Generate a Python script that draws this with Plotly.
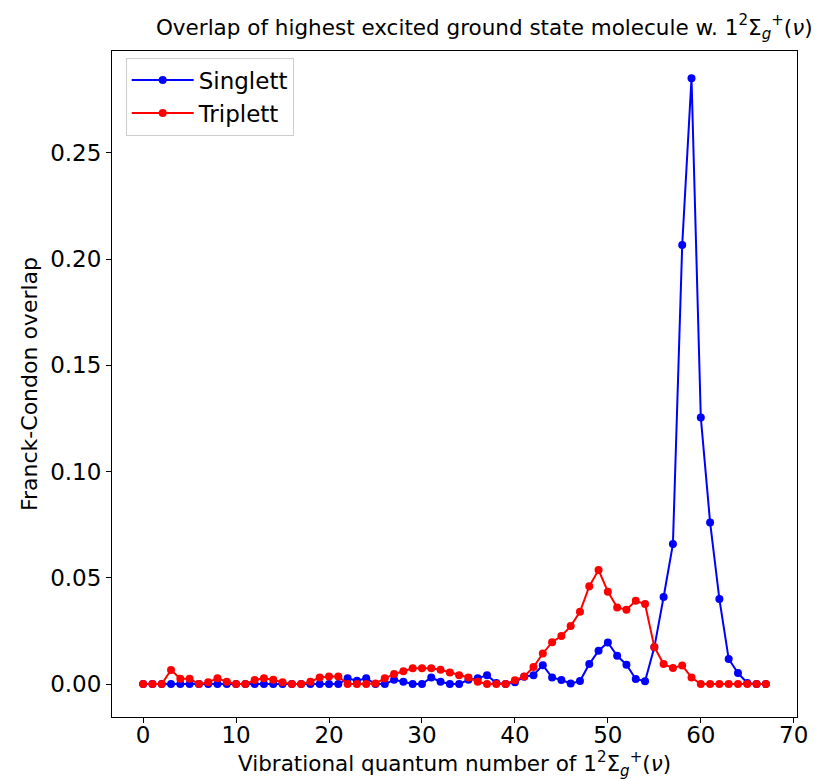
import plotly.graph_objects as go

v = list(range(0, 68))

singlett = [0, 0, 0, 0, 0, 0, 0, 0, 0, 0,
            0, 0, 0, 0, 0, 0, 0, 0, 0, 0,
            0, 0, 0.0027, 0.0016, 0.0027, 0, 0, 0.002, 0.0011, 0,
            0, 0.0031, 0.0011, 0, 0, 0.002, 0.0027, 0.0042, 0.0005, 0,
            0.0008, 0.0035, 0.0042, 0.0089, 0.0031, 0.0019, 0.0003, 0.0014, 0.0094, 0.0157,
            0.0196, 0.0133, 0.0091, 0.0024, 0.0013, 0.0173, 0.0410, 0.0659, 0.2067, 0.2852,
            0.1255, 0.0761, 0.0400, 0.0118, 0.0052, 0.0005, 0, 0]

triplett = [0, 0, 0, 0.0066, 0.0025, 0.0025, 0, 0.0008, 0.0027, 0.0011,
            0, 0, 0.0019, 0.0027, 0.002, 0.0008, 0, 0, 0.0011, 0.0031,
            0.0036, 0.0036, 0, 0, 0, 0.0003, 0.0027, 0.0047, 0.006, 0.0074,
            0.0074, 0.0074, 0.0067, 0.0055, 0.0042, 0.0031, 0.0011, 0, 0, 0,
            0.0018, 0.0036, 0.008, 0.0144, 0.0197, 0.0226, 0.0273, 0.034, 0.046, 0.0537,
            0.0435, 0.0361, 0.035, 0.0392, 0.0377, 0.0175, 0.0094, 0.0076, 0.0088, 0.0031,
            0, 0, 0, 0, 0, 0, 0, 0]

x_ticks = [0, 10, 20, 30, 40, 50, 60, 70]
y_ticks = [0.0, 0.05, 0.10, 0.15, 0.20, 0.25]
y_tick_labels = ["0.00", "0.05", "0.10", "0.15", "0.20", "0.25"]

title_text = "Overlap of highest excited ground state molecule w. 1<sup>2</sup>Σ<sub><i>g</i></sub><sup>+</sup>(<i>ν</i>)"
x_title = "Vibrational quantum number of 1<sup>2</sup>Σ<sub><i>g</i></sub><sup>+</sup>(<i>ν</i>)"
y_title = "Franck-Condon overlap"

font = "DejaVu Sans"

fig = go.Figure()
fig.add_trace(go.Scatter(x=v, y=singlett, mode="lines+markers", name="Singlett",
                         line=dict(color="#0000ff", width=2),
                         marker=dict(color="#0000ff", size=8)))
fig.add_trace(go.Scatter(x=v, y=triplett, mode="lines+markers", name="Triplett",
                         line=dict(color="#ff0000", width=2),
                         marker=dict(color="#ff0000", size=8)))

fig.update_layout(
    width=824, height=779,
    margin=dict(l=104, r=35, t=43, b=70, autoexpand=False),
    paper_bgcolor="white", plot_bgcolor="white",
    font=dict(family=font, color="black"),
    title=dict(text=title_text,
               x=0.578, xref="container", xanchor="center",
               y=1 - 19 / 779, yref="container", yanchor="middle",
               font=dict(family=font, size=21.5, color="black")),
    showlegend=True,
    legend=dict(x=0.02, y=0.99, xanchor="left", yanchor="top",
                bgcolor="white", bordercolor="#cccccc", borderwidth=1,
                font=dict(family=font, size=23, color="black"),
                itemwidth=62),
    annotations=[dict(text=x_title, xref="paper", yref="paper", x=0.5, y=-0.071,
                      xanchor="center", yanchor="middle", showarrow=False,
                      font=dict(family=font, size=21.5, color="black"))],
)

fig.update_xaxes(range=[-3.35, 70.35], tickvals=x_ticks, ticks="outside", ticklen=5,
                 tickcolor="black", showline=True, linecolor="black", linewidth=1,
                 mirror=True, showgrid=False, zeroline=False, automargin=False,
                 ticklabelstandoff=-8,
                 tickfont=dict(family=font, size=23, color="black"))
fig.update_yaxes(range=[-0.0155, 0.298], tickvals=y_ticks, ticktext=y_tick_labels,
                 ticks="outside", ticklen=5, tickcolor="black", showline=True,
                 linecolor="black", linewidth=1, mirror=True, showgrid=False,
                 zeroline=False, automargin=False,
                 tickfont=dict(family=font, size=23, color="black"),
                 title=dict(text=y_title,
                            font=dict(family=font, size=22, color="black"), standoff=6))

fig.write_html("out.html")
